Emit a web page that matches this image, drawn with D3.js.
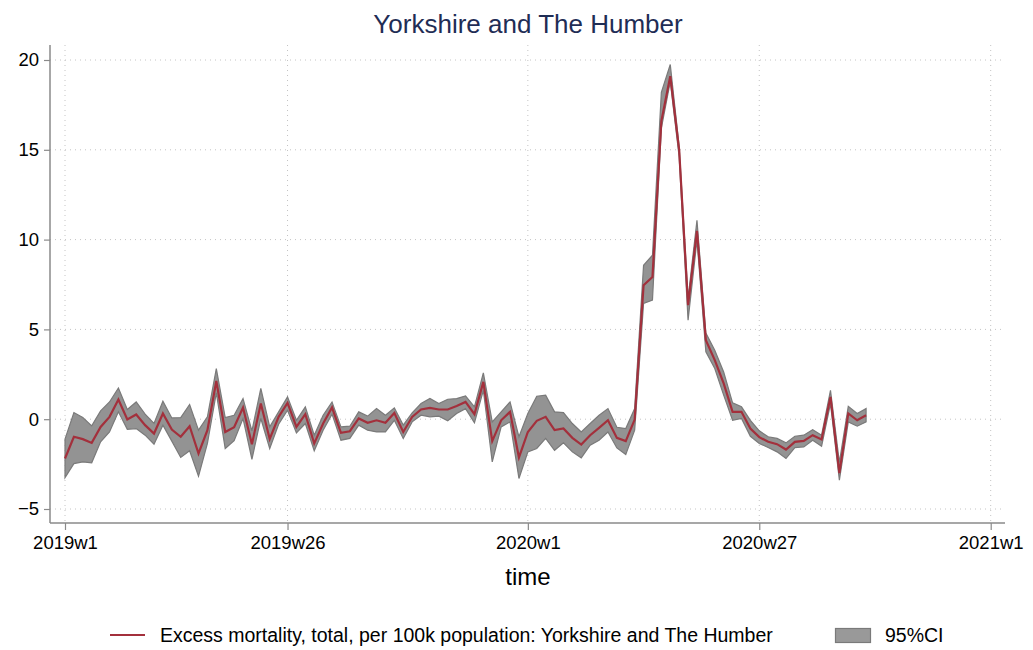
<!DOCTYPE html>
<html>
<head>
<meta charset="utf-8">
<script src="https://cdn.jsdelivr.net/npm/d3@7"></script>
<style>
  html, body { margin: 0; padding: 0; background: #fff; }
  svg { display: block; font-family: "Liberation Sans", Arial, Helvetica, sans-serif; }
</style>
</head>
<body>
<svg id="chart" width="1033" height="650"></svg>
<script>
// ---- Data (weeks since 2019w1) ----
const estimate = [-2.19,-0.98,-1.11,-1.32,-0.43,0.13,1.10,-0.02,0.26,-0.33,
  -0.80,0.32,-0.58,-0.98,-0.39,-1.91,-0.61,2.13,-0.71,-0.45,
  0.65,-1.39,0.87,-1.10,0.13,0.91,-0.43,0.28,-1.35,-0.24,
  0.65,-0.76,-0.67,0.04,-0.20,-0.06,-0.20,0.35,-0.71,0.13,
  0.54,0.63,0.54,0.54,0.74,0.96,0.28,2.08,-1.22,-0.06,
  0.41,-2.13,-0.71,-0.09,0.13,-0.61,-0.52,-1.04,-1.41,-0.89,
  -0.48,-0.06,-1.04,-1.22,-0.02,7.46,7.92,16.6,19.1,14.98,
  6.35,10.49,4.40,3.29,1.99,0.41,0.41,-0.52,-1.00,-1.26,
  -1.39,-1.69,-1.26,-1.21,-0.89,-1.13,1.24,-3.00,0.32,-0.06,0.22];
const ciLower = [-3.25,-2.47,-2.38,-2.43,-1.26,-0.71,0.41,-0.56,-0.52,-0.89,
  -1.39,-0.33,-1.22,-2.13,-1.76,-3.17,-1.35,1.47,-1.63,-1.20,
  0.04,-2.23,0.04,-1.63,-0.28,0.50,-0.76,-0.24,-1.76,-0.61,
  0.28,-1.17,-1.07,-0.33,-0.61,-0.71,-0.71,-0.06,-1.07,-0.15,
  0.22,0.13,0.17,-0.09,0.32,0.59,-0.20,1.61,-2.38,-0.43,
  -0.15,-3.30,-1.82,-1.63,-1.07,-1.73,-1.32,-1.82,-2.15,-1.45,
  -1.17,-0.71,-1.60,-1.97,-0.61,6.44,6.63,16.2,18.8,14.6,
  5.51,9.97,3.75,2.82,1.34,-0.06,0.04,-0.95,-1.35,-1.58,
  -1.82,-2.19,-1.58,-1.54,-1.17,-1.50,0.87,-3.40,-0.15,-0.39,-0.15];
const ciUpper = [-1.11,0.37,0.09,-0.37,0.46,0.96,1.74,0.54,0.96,0.28,
  -0.24,1.00,0.07,0.09,0.82,-0.61,0.13,2.82,0.09,0.22,
  1.15,-0.65,1.71,-0.43,0.41,1.24,-0.06,0.69,-0.89,0.22,
  0.96,-0.43,-0.39,0.41,0.17,0.59,0.22,0.63,-0.33,0.35,
  0.87,1.15,0.87,1.11,1.15,1.30,0.69,2.58,-0.15,0.41,
  0.96,-0.98,0.32,1.28,1.34,0.41,0.37,-0.24,-0.71,-0.24,
  0.22,0.59,-0.45,-0.52,0.59,8.57,9.13,18.2,19.75,15.2,
  6.72,11.08,4.80,3.84,2.63,0.91,0.69,-0.06,-0.65,-0.98,
  -1.07,-1.32,-0.95,-0.89,-0.58,-0.89,1.61,-2.40,0.72,0.32,0.59];
const xTickWeeks = [0, 25, 52, 78, 104];
const xTickLabels = ["2019w1", "2019w26", "2020w1", "2020w27", "2021w1"];
const yTicks = [-5, 0, 5, 10, 15, 20];
const titleText = "Yorkshire and The Humber";
const xTitle = "time";
const seriesLabel = "Excess mortality, total, per 100k population: Yorkshire and The Humber";
const ciLabel = "95%CI";

const data = estimate.map((v, i) => ({ w: i, est: v, lo: ciLower[i], hi: ciUpper[i] }));

const svg = d3.select("#chart");
const x = d3.scaleLinear().domain([0, 104]).range([65, 990.7]);
const y = d3.scaleLinear().domain([-5, 20]).range([509, 60]);
const plotLeft = 50, plotRight = 1005, plotTop = 45, plotBottom = 523;
const axisColor = "#8a8a8a";

// Title
svg.append("text").attr("x", 528).attr("y", 33).attr("text-anchor", "middle")
  .attr("font-size", 26).attr("fill", "#1f2d55").text(titleText);

// Grid
const grid = svg.append("g");
grid.selectAll(".hg").data(yTicks).join("line")
  .attr("x1", plotLeft).attr("x2", plotRight)
  .attr("y1", d => y(d)).attr("y2", d => y(d))
  .attr("stroke", "#c4c4c4").attr("stroke-width", 1).attr("stroke-dasharray", "1,4");
grid.selectAll(".vg").data(xTickWeeks).join("line")
  .attr("y1", plotTop).attr("y2", plotBottom)
  .attr("x1", d => x(d)).attr("x2", d => x(d))
  .attr("stroke", "#c4c4c4").attr("stroke-width", 1).attr("stroke-dasharray", "1,4");

// CI band
const area = d3.area().x(d => x(d.w)).y0(d => y(d.lo)).y1(d => y(d.hi));
svg.append("path").datum(data).attr("d", area)
  .attr("fill", "#939393").attr("stroke", "#7a7a7a").attr("stroke-width", 1.2)
  .attr("stroke-linejoin", "miter");

// Line
const line = d3.line().x(d => x(d.w)).y(d => y(d.est));
svg.append("path").datum(data).attr("d", line)
  .attr("fill", "none").attr("stroke", "#a3303c").attr("stroke-width", 2.2)
  .attr("stroke-linejoin", "miter");

// Axes
const yAxis = d3.axisLeft(y).tickValues(yTicks).tickSize(6).tickPadding(5)
  .tickFormat(d => d < 0 ? "\u2212" + Math.abs(d) : d);
const gy = svg.append("g").attr("transform", `translate(${plotLeft},0)`).call(yAxis);
gy.select(".domain").remove();
svg.append("line").attr("x1", plotLeft).attr("x2", plotLeft).attr("y1", plotTop).attr("y2", plotBottom)
  .attr("stroke", axisColor).attr("stroke-width", 1.5);
gy.selectAll(".tick line").attr("stroke", axisColor).attr("stroke-width", 1.2);
gy.selectAll(".tick text").attr("font-size", 18.5).attr("fill", "#000")
  .attr("font-family", "'Liberation Sans', Arial, sans-serif");

const xAxis = d3.axisBottom(x).tickValues(xTickWeeks).tickSize(7).tickPadding(6)
  .tickFormat((d, i) => xTickLabels[i]);
const gx = svg.append("g").attr("transform", `translate(0,${plotBottom})`).call(xAxis);
gx.select(".domain").remove();
svg.append("line").attr("x1", plotLeft).attr("x2", plotRight).attr("y1", plotBottom).attr("y2", plotBottom)
  .attr("stroke", axisColor).attr("stroke-width", 1.5);
gx.selectAll(".tick line").attr("stroke", axisColor).attr("stroke-width", 1.2);
gx.selectAll(".tick text").attr("font-size", 18.5).attr("fill", "#000")
  .attr("font-family", "'Liberation Sans', Arial, sans-serif");

// X title
svg.append("text").attr("x", 528).attr("y", 585).attr("text-anchor", "middle")
  .attr("font-size", 24).attr("fill", "#000").text(xTitle);

// Legend
const lg = svg.append("g");
lg.append("line").attr("x1", 110).attr("x2", 145).attr("y1", 635).attr("y2", 635)
  .attr("stroke", "#a3303c").attr("stroke-width", 2.2);
lg.append("text").attr("x", 160).attr("y", 641.5).attr("font-size", 19.5).attr("fill", "#000").text(seriesLabel);
lg.append("rect").attr("x", 835.5).attr("y", 628.5).attr("width", 35).attr("height", 14)
  .attr("fill", "#999").attr("stroke", "#7a7a7a").attr("stroke-width", 1.2);
lg.append("text").attr("x", 885).attr("y", 641.5).attr("font-size", 19.5).attr("fill", "#000").text(ciLabel);
</script>
</body>
</html>
